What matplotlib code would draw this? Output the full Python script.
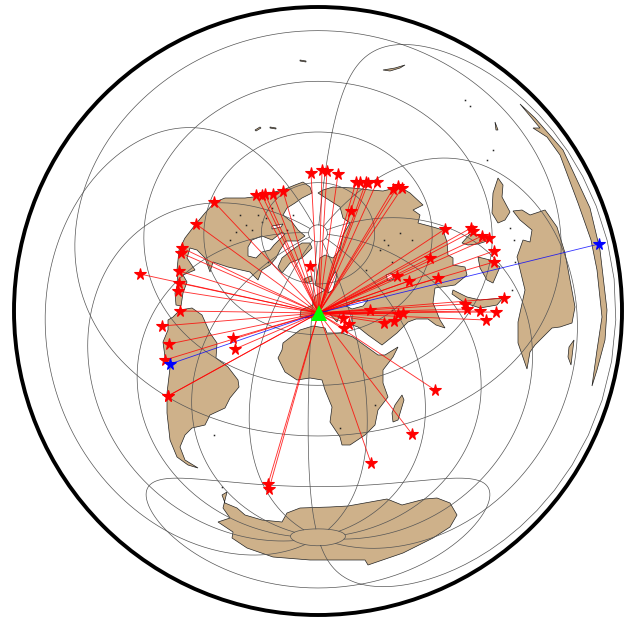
import numpy as np
import matplotlib
matplotlib.use("Agg")
import matplotlib.pyplot as plt
from matplotlib.patches import Circle, Polygon

origin = (318.5, 313)

red_x = [214, 196, 182, 181, 179, 140, 179, 178, 180, 162, 169, 165, 168, 168, 233, 235, 268, 269,
         256, 262, 265, 273, 283, 311, 322, 327, 338, 356, 360, 366, 368, 377, 393, 398, 402, 351, 310,
         445, 471, 473, 482, 489, 494, 494, 430, 397, 409, 438, 504, 465, 467, 480, 496, 486,
         370, 343, 349, 344, 384, 394, 398, 403, 435, 412, 371]
red_y = [202, 224, 248, 253, 271, 274, 283, 291, 311, 326, 344, 360, 396, 396, 338, 349, 484, 489,
         195, 195, 194, 194, 191, 173, 170, 171, 174, 182, 182, 182, 183, 182, 189, 186, 188, 211, 266,
         229, 228, 231, 236, 238, 251, 262, 258, 276, 281, 278, 298, 304, 309, 311, 312, 320,
         310, 318, 324, 328, 323, 321, 314, 313, 390, 434, 463]
blue_x = [170, 599]
blue_y = [364, 244]

north_america = [(295, 185), (303, 182), (310, 187), (312, 193), (302, 198), (295, 203), (287, 208), (283, 215),
                 (292, 222), (298, 230), (305, 236), (298, 241), (286, 241), (280, 250), (276, 258), (270, 265),
                 (262, 270), (258, 280), (250, 272), (228, 267), (213, 262), (210, 272), (205, 258), (197, 250),
                 (190, 248), (187, 258), (195, 270), (183, 275), (187, 282), (183, 293), (181, 306), (176, 305),
                 (175, 293), (178, 283), (177, 270), (179, 250), (185, 238), (195, 225), (205, 213), (215, 202),
                 (225, 198), (245, 198), (253, 197), (283, 190)]
hudson = [(252, 240), (262, 236), (272, 240), (282, 232), (285, 234), (274, 245), (270, 250), (262, 252), (256, 258),
          (248, 256), (248, 247)]
arctic_gaps = [(272, 226), (283, 224), (281, 227), (272, 229)]
greenland = [(310, 243), (312, 248), (302, 258), (290, 263), (282, 273), (278, 267), (282, 258), (292, 250), (302, 243)]
south_america = [(180, 310), (192, 308), (202, 315), (210, 333), (217, 343), (216, 358), (228, 367), (238, 380),
                 (239, 387), (230, 398), (225, 408), (210, 415), (205, 425), (192, 428), (185, 435), (180, 447),
                 (185, 460), (198, 468), (188, 465), (177, 457), (170, 440), (167, 413), (167, 393), (170, 368),
                 (165, 357), (163, 342), (168, 330), (168, 320), (173, 317)]
africa = [(282, 350), (283, 343), (300, 330), (313, 326), (325, 328), (327, 333), (342, 333), (353, 337), (378, 355),
          (385, 355), (398, 347), (393, 357), (383, 370), (383, 383), (388, 397), (378, 410), (375, 425), (365, 435),
          (350, 445), (342, 445), (340, 437), (330, 422), (332, 407), (325, 390), (322, 380), (310, 378), (297, 380),
          (285, 372), (278, 358)]
madagascar = [(402, 395), (404, 400), (398, 420), (393, 422), (392, 413), (395, 405)]
eurasia = [(318, 193), (323, 190), (333, 187), (353, 188), (370, 190), (383, 191), (400, 187), (410, 193), (423, 205),
           (413, 210), (420, 215), (418, 223), (433, 227), (443, 230), (447, 242), (448, 255), (453, 258), (453, 265),
           (465, 267), (467, 275), (455, 285), (435, 288), (433, 303), (440, 320), (445, 328), (436, 325), (428, 319),
           (416, 319), (408, 322), (397, 333), (382, 345), (368, 335), (358, 327), (352, 325), (352, 314), (340, 314),
           (337, 322), (328, 312), (318, 310), (313, 318), (300, 317), (301, 310), (313, 305), (315, 296), (325, 290),
           (315, 285), (317, 275), (320, 258), (325, 255), (333, 258), (340, 250), (343, 235), (350, 223), (343, 218),
           (340, 207)]
baltic = [(328, 285), (335, 272), (337, 274), (333, 290), (328, 293)]
black_sea = [(346, 306), (355, 301), (368, 300), (363, 306), (352, 309)]
caspian = [(386, 275), (392, 273), (394, 279), (388, 281)]
iceland = [(304, 279), (311, 276), (312, 281), (306, 283)]
australia = [(513, 211), (522, 210), (530, 215), (545, 210), (557, 227), (565, 253), (575, 307), (572, 323), (560, 327),
             (552, 328), (535, 345), (530, 352), (527, 369), (518, 343), (518, 322), (525, 290), (517, 257), (523, 240),
             (530, 242), (532, 230), (520, 220)]
tasmania = [(574, 340), (571, 365), (568, 357), (569, 347)]
new_guinea = [(498, 178), (503, 185), (502, 197), (510, 212), (505, 220), (498, 223), (492, 213), (493, 193)]
borneo = [(478, 257), (490, 260), (500, 267), (493, 283), (487, 280), (480, 268)]
japan = [(462, 243), (470, 234), (482, 236), (490, 240), (478, 244), (468, 245)]
sumatra = [(453, 290), (467, 297), (480, 300), (503, 298), (497, 305), (480, 308), (465, 303), (452, 294)]
antipode = [(520, 104), (535, 118), (563, 150), (590, 208), (600, 250), (607, 310), (605, 340), (597, 370), (592, 386),
            (597, 350), (602, 317), (597, 270), (591, 240), (578, 203), (560, 155), (547, 137), (533, 128), (540, 128)]
antarctica = [(227, 492), (222, 495), (225, 503), (237, 508), (245, 515), (262, 520), (282, 522), (287, 513), (300, 508),
              (330, 507), (348, 506), (387, 499), (402, 505), (425, 499), (437, 498), (450, 503), (457, 515), (450, 527),
              (433, 538), (403, 553), (368, 565), (365, 560), (347, 560), (310, 560), (273, 557), (247, 548), (232, 538),
              (233, 532), (218, 522), (230, 518), (223, 508)]
islet_a = [(383, 70), (395, 68), (405, 65), (400, 68), (390, 71)]
islet_b = [(255, 130), (260, 127), (261, 128), (256, 131)]
islet_c = [(270, 127), (276, 128), (276, 129), (270, 128)]
islet_d = [(300, 60), (306, 61), (306, 62), (300, 61)]
islet_e = [(495, 122), (498, 130), (496, 130)]
land = [north_america, greenland, iceland, south_america, africa, madagascar, eurasia, australia, tasmania,
        new_guinea, borneo, japan, sumatra, antipode, antarctica, islet_a, islet_b, islet_c, islet_d, islet_e]
lakes = [hudson, arctic_gaps, baltic, black_sea, caspian]

# little islands and lake shores
speck_x = [465, 470, 487, 493, 510, 514, 515, 512, 240, 246, 252, 258, 266, 272, 276, 287, 262, 268, 293, 230, 236,
           400, 412, 380, 384, 388, 392, 366, 340, 222, 214, 375, 392]
speck_y = [100, 106, 160, 150, 228, 240, 262, 290, 215, 225, 230, 215, 218, 208, 225, 230, 222, 262, 215, 240, 232,
           233, 240, 250, 240, 245, 262, 270, 428, 487, 435, 405, 310]

# graticule settings of the map
lat0, lon0 = 44.0, 5.0
centre = (318, 311)
radius = 304
parallels = [85, 60, 30, 0, -30, -60, -85]
meridians = np.arange(-180, 180, 30)


def project(lon, lat):
    """Azimuthal equidistant, to image pixels."""
    phi, lam = np.radians(lat), np.radians(np.asarray(lon) - lon0)
    phi0 = np.radians(lat0)
    cos_c = np.sin(phi0) * np.sin(phi) + np.cos(phi0) * np.cos(phi) * np.cos(lam)
    c = np.arccos(np.clip(cos_c, -1, 1))
    k = np.where(c > 1e-9, c / np.maximum(np.sin(c), 1e-9), 1.0)
    x = k * np.cos(phi) * np.sin(lam)
    y = k * (np.cos(phi0) * np.sin(phi) - np.sin(phi0) * np.cos(phi) * np.cos(lam))
    scale = radius / np.pi
    return centre[0] + scale * x, centre[1] - scale * y


fig = plt.figure(figsize=(6.33, 6.18), dpi=100)
ax = fig.add_axes([0, 0, 1, 1])
ax.set_xlim(0, 633)
ax.set_ylim(618, 0)
ax.axis("off")

for outline in land:
    ax.add_patch(Polygon(outline, closed=True, facecolor="#ceb18a", edgecolor="#222222", lw=0.5, zorder=1))
for outline in lakes:
    ax.add_patch(Polygon(outline, closed=True, facecolor="white", edgecolor="#222222", lw=0.5, zorder=1.1))
ax.plot(speck_x, speck_y, ls="none", marker="s", color="#222222", ms=1.1, mew=0, zorder=1.2)

for lat in parallels:
    lons = np.linspace(-180, 180, 721)
    x, y = project(lons, np.full_like(lons, lat, dtype=float))
    ax.plot(x, y, color="#555555", lw=0.5, zorder=2)
for lon in meridians:
    lats = np.linspace(-85, 85, 341)
    x, y = project(np.full_like(lats, lon, dtype=float), lats)
    ax.plot(x, y, color="#555555", lw=0.5, zorder=2)

ax.add_patch(Circle(centre, radius, fill=False, edgecolor="black", lw=2.8, zorder=5))

for x, y in zip(red_x, red_y):
    ax.plot([origin[0], x], [origin[1], y], color="red", lw=0.65, alpha=0.8, zorder=3)
for x, y in zip(blue_x, blue_y):
    ax.plot([origin[0], x], [origin[1], y], color="blue", lw=0.6, alpha=0.8, zorder=3)

ax.plot(red_x, red_y, ls="none", marker="*", color="red", ms=8.5, mew=0.8, zorder=4)
ax.plot(blue_x, blue_y, ls="none", marker="*", color="blue", ms=8.5, mew=0.8, zorder=4)
ax.plot([origin[0]], [origin[1]], ls="none", marker="^", color="#00ff00", ms=11, mew=0, zorder=4)

fig.savefig("out.png", dpi=100)
